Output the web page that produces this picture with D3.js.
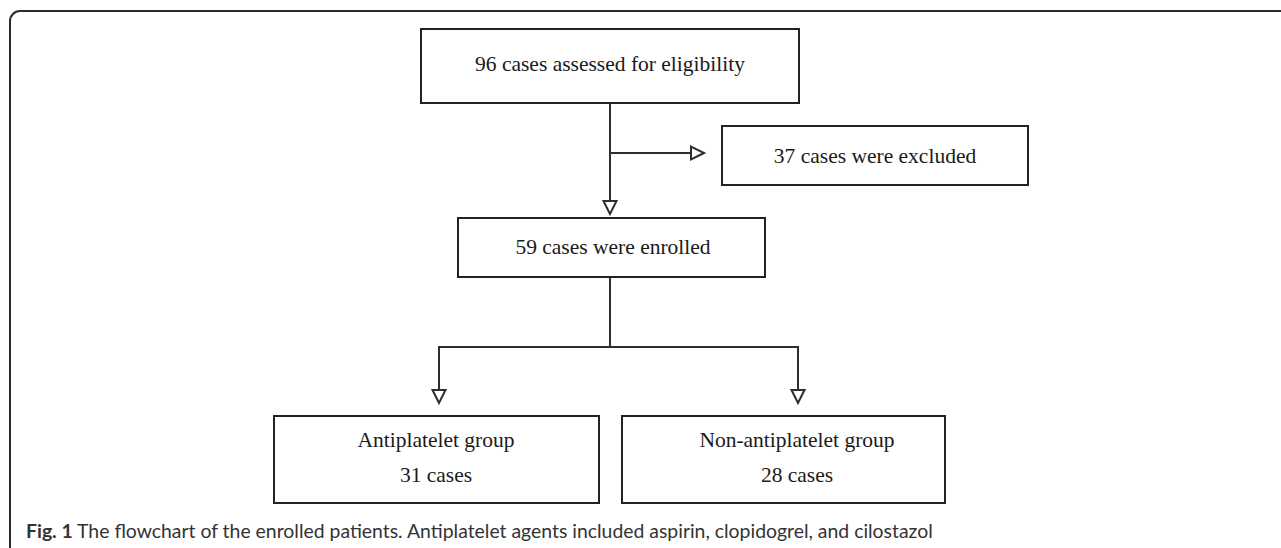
<!DOCTYPE html>
<html>
<head>
<meta charset="UTF-8">
<title>Flowchart</title>
<script src="https://d3js.org/d3.v7.min.js"></script>
<style>
  * { margin: 0; padding: 0; box-sizing: border-box; }
  body { background: #fff; }
  svg { display: block; }
</style>
</head>
<body>
<div id="chart"></div>
<script>
// box texts (one entry per line)
const boxIds = ["assessed", "excluded", "enrolled", "anti", "nonanti"];
const boxLines = [
  ["96 cases assessed for eligibility"],
  ["37 cases were excluded"],
  ["59 cases were enrolled"],
  ["Antiplatelet group", "31 cases"],
  ["Non-antiplatelet group", "28 cases"]
];
const captionBold = "Fig. 1";
const captionText = " The flowchart of the enrolled patients. Antiplatelet agents included aspirin, clopidogrel, and cilostazol";

// layout (pixels)
const W = 1281, H = 548;
const layout = {
  assessed: { x: 421, y: 29, w: 378, h: 74, tx: 610, ty: [71] },
  excluded: { x: 722, y: 126, w: 306, h: 59, tx: 875, ty: [163] },
  enrolled: { x: 458, y: 218, w: 307, h: 59, tx: 613, ty: [254] },
  anti:     { x: 274, y: 416, w: 325, h: 87, tx: 436, ty: [447, 482] },
  nonanti:  { x: 622, y: 416, w: 323, h: 87, tx: 797, ty: [447, 482] }
};

const svg = d3.select("#chart").append("svg")
  .attr("width", W)
  .attr("height", H);

// outer frame, only left + top edge visible with rounded corner
svg.append("path")
  .attr("d", `M10,${H + 10} V21 A10,10 0 0 1 20,11 H${W + 10}`)
  .attr("fill", "none")
  .attr("stroke", "#2b2b2b")
  .attr("stroke-width", 2);

const lineColor = "#2e2e2e";

// connectors: [x1, y1, x2, y2, arrow]
const connectors = [
  [610, 103, 610, 214, true],
  [610, 153, 704, 153, true],
  [610, 277, 610, 347, false],
  [439, 347, 798, 347, false],
  [439, 347, 439, 403, true],
  [798, 347, 798, 403, true]
];

const arrowLen = 13, arrowHalf = 6.5;

connectors.forEach(([x1, y1, x2, y2, arrow]) => {
  const dx = x2 - x1, dy = y2 - y1;
  const len = Math.hypot(dx, dy);
  const ux = dx / len, uy = dy / len;
  const ex = arrow ? x2 - ux * arrowLen : x2;
  const ey = arrow ? y2 - uy * arrowLen : y2;
  svg.append("line")
    .attr("x1", x1).attr("y1", y1)
    .attr("x2", ex).attr("y2", ey)
    .attr("stroke", lineColor)
    .attr("stroke-width", 2)
    .attr("stroke-linecap", "square");
  if (arrow) {
    const px = -uy, py = ux;
    const pts = [
      [x2, y2],
      [ex + px * arrowHalf, ey + py * arrowHalf],
      [ex - px * arrowHalf, ey - py * arrowHalf]
    ];
    svg.append("polygon")
      .attr("points", pts.map(p => p.join(",")).join(" "))
      .attr("fill", "#fff")
      .attr("stroke", lineColor)
      .attr("stroke-width", 2)
      .attr("stroke-linejoin", "miter");
  }
});

// boxes
const boxes = svg.selectAll(".box")
  .data(boxIds.map((id, i) => ({ id, lines: boxLines[i], ...layout[id] })))
  .join("g")
  .attr("class", "box");

boxes.append("rect")
  .attr("x", d => d.x)
  .attr("y", d => d.y)
  .attr("width", d => d.w)
  .attr("height", d => d.h)
  .attr("fill", "#fff")
  .attr("stroke", "#222")
  .attr("stroke-width", 2);

boxes.each(function(d) {
  d3.select(this).selectAll("text")
    .data(d.lines)
    .join("text")
    .attr("x", d.tx)
    .attr("y", (t, i) => d.ty[i])
    .attr("text-anchor", "middle")
    .style("font-family", "'Liberation Serif', 'Times New Roman', serif")
    .style("font-size", "21.5px")
    .attr("fill", "#1a1a1a")
    .text(t => t);
});

// caption
const cap = svg.append("text")
  .attr("x", 26)
  .attr("y", 538)
  .style("font-family", "Lato, 'Open Sans', sans-serif")
  .style("font-size", "19.4px")
  .attr("fill", "#333");
cap.append("tspan").style("font-weight", "bold").text(captionBold);
cap.append("tspan").text(captionText);
</script>
</body>
</html>
